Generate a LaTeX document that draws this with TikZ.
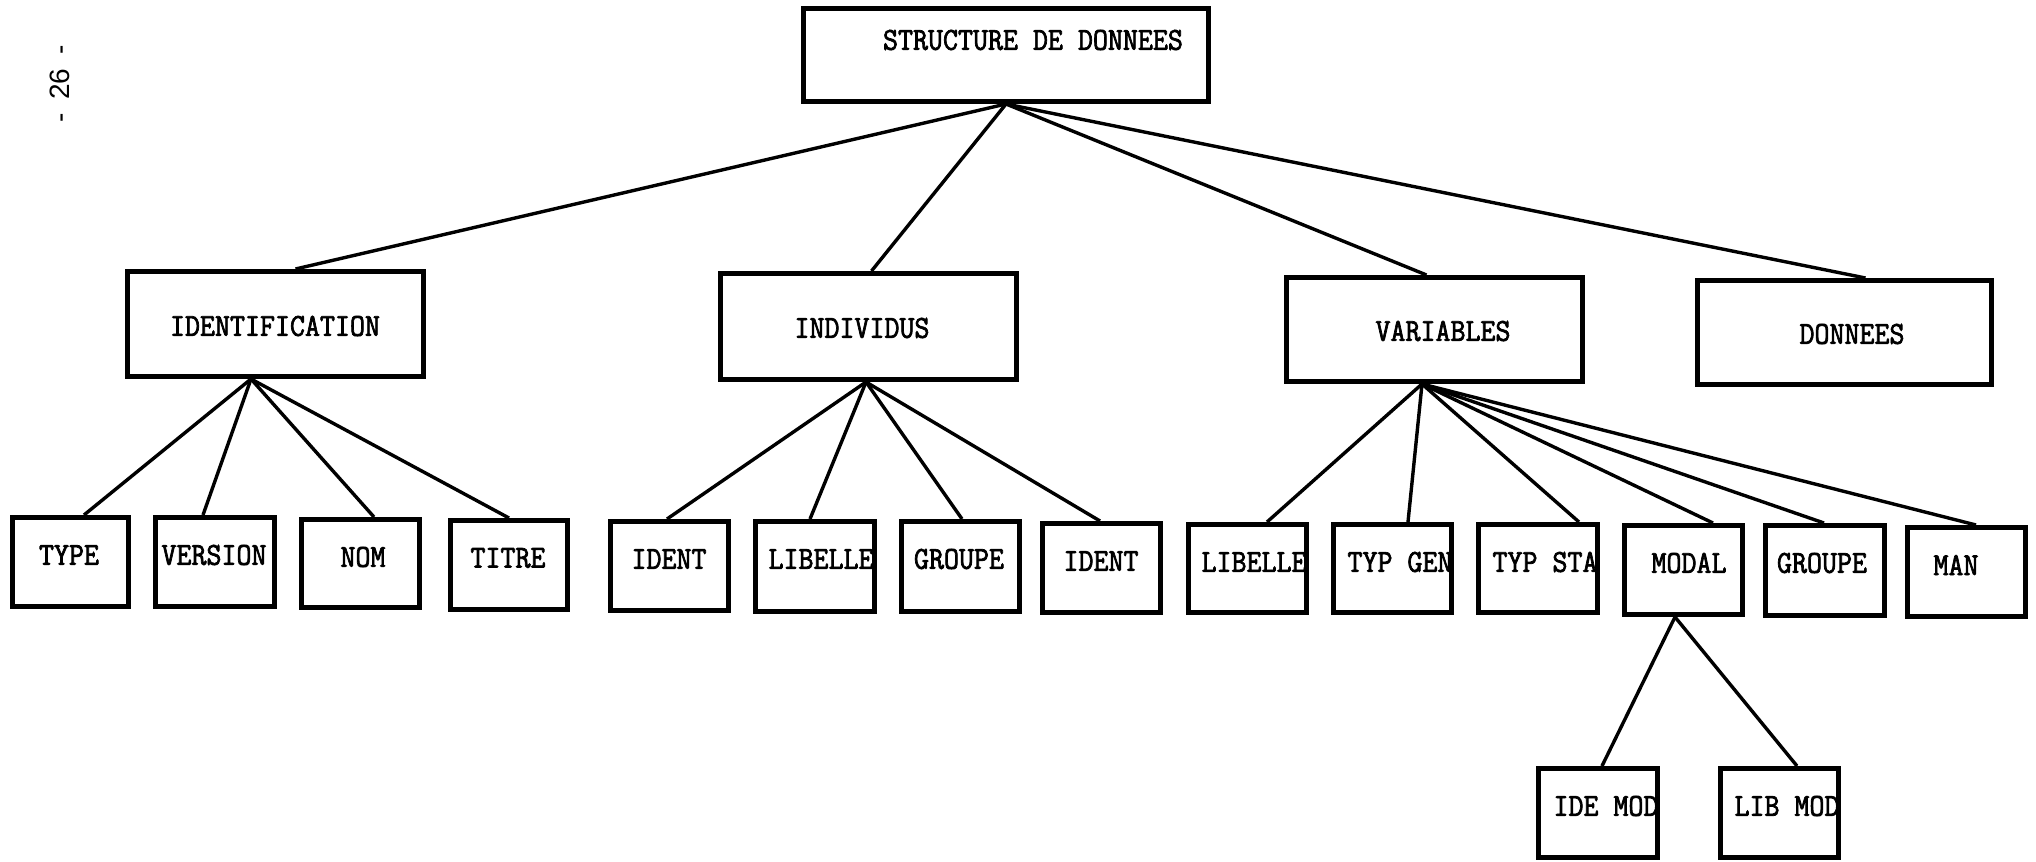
\documentclass[tikz,border=0pt]{standalone}
\usepackage{fontspec}
\newfontfamily\lbfont[FakeStretch=0.91, FakeBold=2.2]{Latin Modern Mono}
\setsansfont{Liberation Sans}
\tikzset{
  box/.style={draw=black, line width=2.6pt, rectangle, inner sep=0pt},
  lbl/.style={inner sep=0pt, font=\lbfont\fontsize{16}{19}\selectfont},
  conn/.style={draw=black, line width=1.7pt},
  pageno/.style={inner sep=0pt, rotate=90, font=\sffamily\fontsize{14}{16}\selectfont}
}
\newcommand\bx[8]{%
  \node[box, minimum width={(#4-#2)*0.5pt-2.6pt}, minimum height={(#5-#3)*0.5pt-2.6pt}]
    (#1) at ({(#2+#4)/2},{(#3+#5)/2}) {};
  \node[lbl] (#1-t) at (#6,#7) {#8};}
\begin{document}
\begin{tikzpicture}[x=0.5pt,y=-0.5pt]
\useasboundingbox[fill=white] (0,0) rectangle (2036,862);
% page number
\node[pageno] (pg) at (60,84) {-\hspace{7pt}26\hspace{7pt}-};
% level 1
\bx{top}{801}{6}{1211}{104}{1033}{40}{STRUCTURE DE DONNEES}
% level 2
\bx{ident}{125}{269}{426}{379}{275}{326}{IDENTIFICATION}
\bx{indiv}{718}{271}{1019}{382}{862}{328}{INDIVIDUS}
\bx{vars}{1284}{275}{1585}{384}{1443}{331}{VARIABLES}
\bx{donn}{1695}{278}{1994}{387}{1852}{334}{DONNEES}
% level 3
\bx{type}{10}{515}{131}{609}{69}{555}{TYPE}
\bx{version}{153}{515}{277}{609}{214}{555}{VERSION}
\bx{nom}{299}{517}{422}{610}{363}{557}{NOM}
\bx{titre}{448}{518}{570}{612}{508}{558}{TITRE}
\bx{identa}{608}{519}{731}{613}{669}{559}{IDENT}
\bx{libellea}{753}{519}{877}{614}{821}{559}{LIBELLE}
\bx{groupea}{899}{519}{1022}{614}{959}{559}{GROUPE}
\bx{identb}{1040}{521}{1163}{615}{1101}{561}{IDENT}
\bx{libelleb}{1186}{522}{1309}{615}{1254}{562}{LIBELLE}
\bx{typgen}{1331}{522}{1454}{615}{1400}{562}{TYP GEN}
\bx{typsta}{1476}{522}{1600}{615}{1545}{562}{TYP STA}
\bx{modal}{1622}{523}{1745}{617}{1689}{563}{MODAL}
\bx{groupeb}{1763}{523}{1887}{618}{1822}{563}{GROUPE}
\bx{man}{1905}{525}{2028}{619}{1956}{565}{MAN}
% level 4
\bx{idemod}{1536}{766}{1660}{860}{1606}{806}{IDE MOD}
\bx{libmod}{1718}{766}{1841}{860}{1787}{806}{LIB MOD}
% connectors
\draw[conn] (top.south) -- ([xshift=10pt]ident.north);
\draw[conn] (top.south) -- ([xshift=1.5pt]indiv.north);
\draw[conn] (top.south) -- ([xshift=-4pt]vars.north);
\draw[conn] (top.south) -- ([xshift=10.5pt]donn.north);
\draw[conn] ([xshift=-12.25pt]ident.south) -- ([xshift=6.75pt]type.north);
\draw[conn] ([xshift=-12.25pt]ident.south) -- ([xshift=-6pt]version.north);
\draw[conn] ([xshift=-12.25pt]ident.south) -- ([xshift=6.75pt]nom.north);
\draw[conn] ([xshift=-12.25pt]ident.south) -- (titre.north);
\draw[conn] ([xshift=-1.25pt]indiv.south) -- ([xshift=-1.25pt]identa.north);
\draw[conn] ([xshift=-1.25pt]indiv.south) -- ([xshift=-2.5pt]libellea.north);
\draw[conn] ([xshift=-1.25pt]indiv.south) -- ([xshift=0.75pt]groupea.north);
\draw[conn] ([xshift=-1.25pt]indiv.south) -- ([xshift=-0.75pt]identb.north);
\draw[conn] ([xshift=-6.25pt]vars.south) -- ([xshift=9.75pt]libelleb.north);
\draw[conn] ([xshift=-6.25pt]vars.south) -- ([xshift=7.75pt]typgen.north);
\draw[conn] ([xshift=-6.25pt]vars.south) -- ([xshift=20.5pt]typsta.north);
\draw[conn] ([xshift=-6.25pt]vars.south) -- ([xshift=14.75pt]modal.north);
\draw[conn] ([xshift=-6.25pt]vars.south) -- ([xshift=-0.5pt]groupeb.north);
\draw[conn] ([xshift=-6.25pt]vars.south) -- ([xshift=4.75pt]man.north);
\draw[conn] ([xshift=-4.25pt]modal.south) -- ([xshift=2pt]idemod.north);
\draw[conn] ([xshift=-4.25pt]modal.south) -- ([xshift=8.75pt]libmod.north);
\end{tikzpicture}
\end{document}
